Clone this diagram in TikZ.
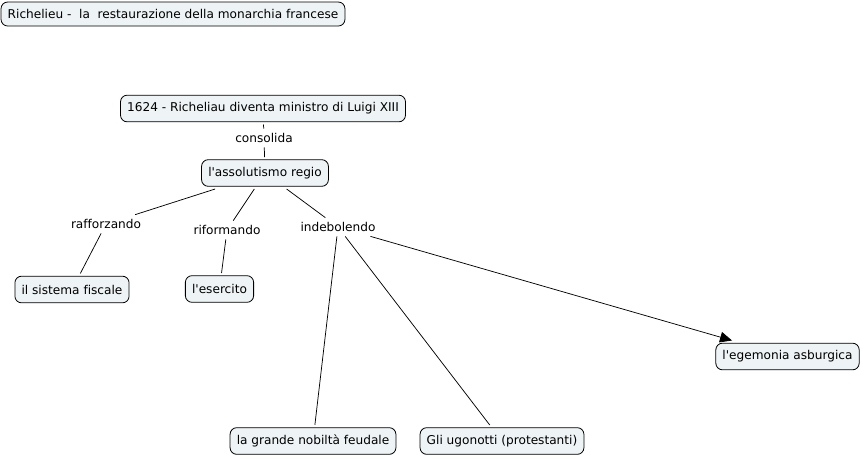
\documentclass[tikz,border=0pt]{standalone}
\usepackage{fontspec}
\setmainfont[Ligatures=NoCommon, Mapping=]{DejaVu Sans}
\usetikzlibrary{arrows.meta}

\definecolor{conceptfill}{HTML}{EEF3F5}
\newcommand{\ap}{{\char"0027}}

\begin{document}
\begin{tikzpicture}[
    x=0.75pt, y=-0.75pt,
    concept/.style={draw, rounded corners=5pt, fill=conceptfill, line width=0.6pt,
        font=\fontsize{9.1}{11}\selectfont, inner xsep=5pt, minimum height=20pt, outer sep=2pt},
    linkword/.style={font=\fontsize{9.1}{11}\selectfont, inner sep=1.5pt, outer sep=2pt},
    link/.style={line width=0.55pt}
]
\useasboundingbox (0,0) rectangle (862,458);

% concepts
\node[concept, minimum height=18pt] (title) at (173,14) {Richelieu -\ \ la\ \ restaurazione della monarchia francese};
\node[concept] (anno) at (263,108.5) {1624 - Richeliau diventa ministro di Luigi XIII};
\node[concept] (assol) at (265,173) {l\ap assolutismo regio};
\node[concept] (fisco) at (72,289.5) {il sistema fiscale};
\node[concept] (eserc) at (219.5,289) {l\ap esercito};
\node[concept] (egem) at (787.5,356.5) {l\ap egemonia asburgica};
\node[concept] (nobil) at (313,441) {la grande nobiltà feudale};
\node[concept] (ugon) at (502,441) {Gli ugonotti (protestanti)};

% linking words
\node[linkword] (consol) at (264,138) {consolida};
\node[linkword] (raff) at (106,224) {rafforzando};
\node[linkword] (rifor) at (227,230) {riformando};
\node[linkword] (indeb) at (338,227) {indebolendo};

% connections
\draw[link] (anno) -- (consol) -- (assol);
\draw[link] (assol) -- (raff) -- (fisco);
\draw[link] (assol) -- (rifor) -- (eserc);
\draw[link] (assol) -- (indeb);
\draw[link, -{Triangle[length=9pt, width=8pt]}] (indeb) -- (egem);
\draw[link] (indeb) -- (nobil);
\draw[link] (indeb) -- (ugon);
\end{tikzpicture}
\end{document}
